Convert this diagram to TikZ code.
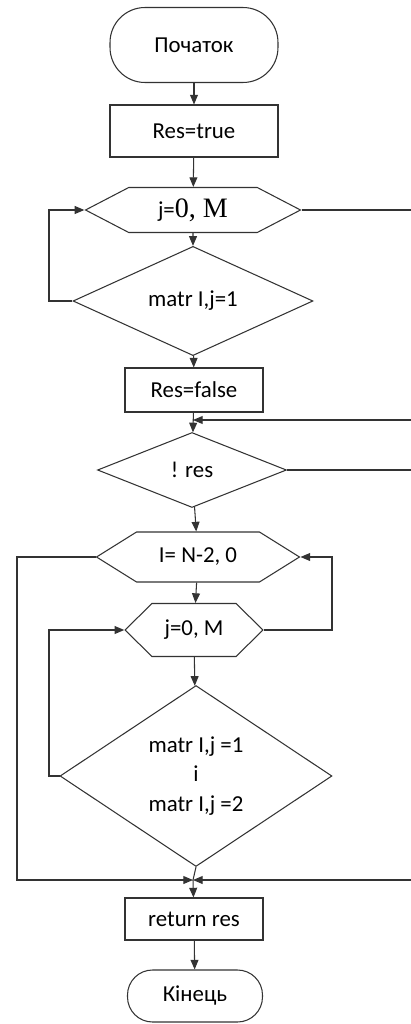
\documentclass[tikz,border=0pt]{standalone}
\usepackage{fontspec}
\setmainfont{Carlito}
\newfontfamily\numfont{Liberation Serif}
\usetikzlibrary{arrows.meta,shapes.geometric,shapes.symbols}
\begin{document}
\begin{tikzpicture}[
        x=0.02cm, y=-0.02cm,
        line width=0.6pt,
        font=\fontsize{13}{17}\selectfont
    ]
    \tikzset{
        term/.style = {rectangle, rounded corners=0.7cm, draw=black!80, align=center},
        proc/.style = {rectangle, draw=black!80, align=center},
        loopn/.style = {signal, signal to=west and east, draw=black!80, align=center, inner sep=0pt},
        cond/.style = {diamond, draw=black!80, align=center, inner sep=0pt},
        edgen/.style = {-, draw=black!80},
        edgea/.style = {-{Triangle[length=5.5pt,width=4.5pt]}, draw=black!80},
    }
    \useasboundingbox (0,0) rectangle (411,1024);
    \node[term, minimum width=3.36cm, minimum height=1.5cm] at (194,45) (start) {Початок};
    \node[proc, minimum width=3.36cm, minimum height=1.04cm] at (194,131) (rt) {Res=true};
    \node[loopn, minimum width=4.3cm, minimum height=0.9cm, signal pointer angle=55] at (193,210) (hj) {j={\numfont\fontsize{16}{17}\selectfont 0, M}};
    \node[cond, minimum width=4.8cm, minimum height=1.76cm] at (193,301) (d1) {matr I,j=1};
    \node[proc, minimum width=2.76cm, minimum height=0.88cm] at (194,390) (rf) {Res=false};
    \node[cond, minimum width=3.78cm, minimum height=1.5cm] at (192,470) (d2) {! res};
    \node[loopn, minimum width=4.06cm, minimum height=1.0cm, signal pointer angle=64] at (198,557) (hi) {I= N-2, 0};
    \node[loopn, minimum width=2.76cm, minimum height=1.06cm, signal pointer angle=89] at (194,630) (hj2) {j=0, M};
    \node[cond, minimum width=5.44cm, minimum height=3.62cm] at (196,776) (d3) {matr I,j =1\\i\\matr I,j =2};
    \node[proc, minimum width=2.76cm, minimum height=0.84cm] at (194,919) (ret) {return res};
    \node[term, rounded corners=0.5cm, minimum width=2.7cm, minimum height=1.04cm] at (195,996) (fin) {Кінець};
    %
    \coordinate (j2) at (193,420);
    \coordinate (j4) at (193,880);
    \coordinate (l1) at (49,250);
    \coordinate (l2) at (49,700);
    \coordinate (l3) at (17,700);
    \coordinate (r0) at (332,600);
    \coordinate (e1) at (411,210);
    \coordinate (e2) at (411,420);
    \coordinate (e3) at (411,470);
    \coordinate (e4) at (411,880);
    %
    \draw[edgea] (start) -- (rt);
    \draw[edgea] (rt) -- (hj);
    \draw[edgea] (hj) -- (d1);
    \draw[edgea] (d1) -- (rf);
    \draw[edgea] (rf) -- (d2);
    \draw[edgea] (d2) -- (hi);
    \draw[edgea] (hi) -- (hj2);
    \draw[edgea] (hj2) -- (d3);
    \draw[edgea] (j4) -- (ret);
    \draw[edgea] (ret) -- (fin);
    %
    \draw[edgea] (d1.west) -| (l1) |- (hj.west);
    \draw[edgea] (d3.west) -| (l2) |- (hj2.west);
    \draw[edgea] (hj2.east) -| (r0) |- (hi.east);
    \draw[edgea] (hi.west) -| (l3) |- (j4);
    \draw[edgen] (d3.south) -- (j4);
    %
    \draw[edgen] (hj.east) -- (e1);
    \draw[edgea] (e2) -- (j2);
    \draw[edgen] (d2.east) -- (e3);
    \draw[edgea] (e4) -- (j4);
\end{tikzpicture}
\end{document}
